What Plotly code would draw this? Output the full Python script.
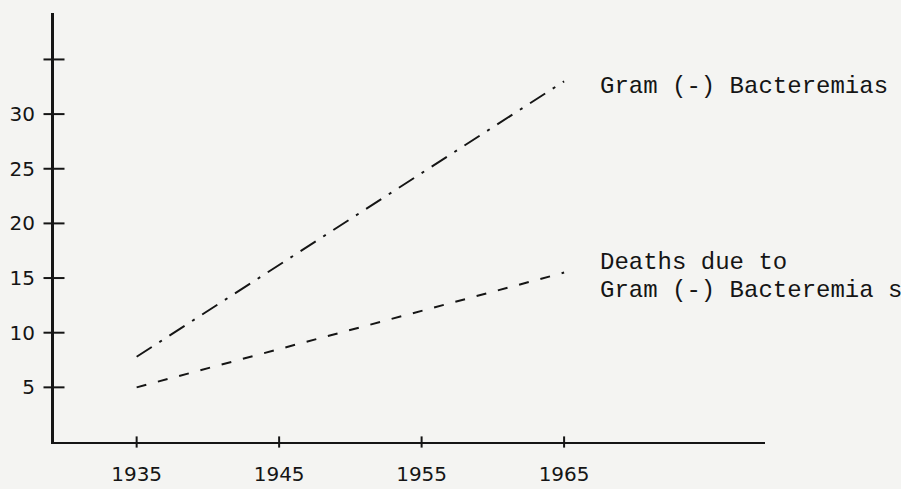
import plotly.graph_objects as go

# ---- data ----
years = [1935, 1965]
gram_bacteremias = [7.8, 33.0]
deaths_gram = [5.0, 15.5]

x_tick_vals = [1935, 1945, 1955, 1965]
x_tick_text = ["1935", "1945", "1955", "1965"]
y_tick_vals = [5, 10, 15, 20, 25, 30]
y_tick_text = ["5", "10", "15", "20", "25", "30"]
y_extra_ticks = [35]

label_gram = "Gram (-) Bacteremias"
label_deaths_1 = "Deaths due to"
label_deaths_2 = "Gram (-) Bacteremia s"

x_range = [1929.2, 1979.1]
y_range = [0, 39.25]

ink = "#151515"
paper = "#f4f4f2"
mono = "Liberation Mono, Courier New, monospace"
sans = "DejaVu Sans, sans-serif"

fig = go.Figure()

fig.add_trace(go.Scatter(
    x=years, y=gram_bacteremias, mode="lines",
    line=dict(color=ink, width=2, dash="18px,9px,3px,9px"),
    showlegend=False, hoverinfo="skip"))
fig.add_trace(go.Scatter(
    x=years, y=deaths_gram, mode="lines",
    line=dict(color=ink, width=2, dash="10px,12px"),
    showlegend=False, hoverinfo="skip"))

# crossing tick marks on the y axis
fig.add_trace(go.Scatter(
    x=[x_range[0]] * (len(y_tick_vals) + len(y_extra_ticks)),
    y=y_tick_vals + y_extra_ticks, mode="markers",
    marker=dict(symbol="line-ew", size=15, line=dict(color=ink, width=2)),
    showlegend=False, hoverinfo="skip", cliponaxis=False))
# small crossing tick marks on the x axis
fig.add_trace(go.Scatter(
    x=x_tick_vals, y=[0] * len(x_tick_vals), mode="markers",
    marker=dict(symbol="line-ns", size=8, line=dict(color=ink, width=2)),
    showlegend=False, hoverinfo="skip", cliponaxis=False))

fig.add_annotation(x=1967.4, y=32.5, text=label_gram, showarrow=False,
                   xanchor="left", yanchor="middle", align="left",
                   font=dict(family=mono, size=24, color=ink))
fig.add_annotation(x=1967.4, y=16.45, text=label_deaths_1, showarrow=False,
                   xanchor="left", yanchor="middle", align="left",
                   font=dict(family=mono, size=24, color=ink))
fig.add_annotation(x=1967.4, y=13.9, text=label_deaths_2, showarrow=False,
                   xanchor="left", yanchor="middle", align="left",
                   font=dict(family=mono, size=24, color=ink))

fig.update_xaxes(range=x_range, showgrid=False, zeroline=False,
                 showline=True, linecolor=ink, linewidth=2,
                 tickvals=x_tick_vals, ticktext=x_tick_text,
                 ticks="outside", ticklen=13, tickcolor="rgba(0,0,0,0)",
                 tickfont=dict(family=sans, size=20, color=ink),
                 automargin=False)
fig.update_yaxes(range=y_range, showgrid=False, zeroline=False,
                 showline=True, linecolor=ink, linewidth=3,
                 tickvals=y_tick_vals, ticktext=y_tick_text,
                 ticks="outside", ticklen=12, tickcolor="rgba(0,0,0,0)",
                 tickfont=dict(family=sans, size=20, color=ink),
                 automargin=False)

fig.update_layout(
    width=901, height=489,
    margin=dict(l=54, r=136, t=13, b=47, autoexpand=False),
    paper_bgcolor=paper, plot_bgcolor=paper,
    showlegend=False)

fig.write_html("out.html",
               config={"displayModeBar": False},
               post_script="document.body.style.margin='0';"
                           "document.body.style.background='%s';" % paper)
